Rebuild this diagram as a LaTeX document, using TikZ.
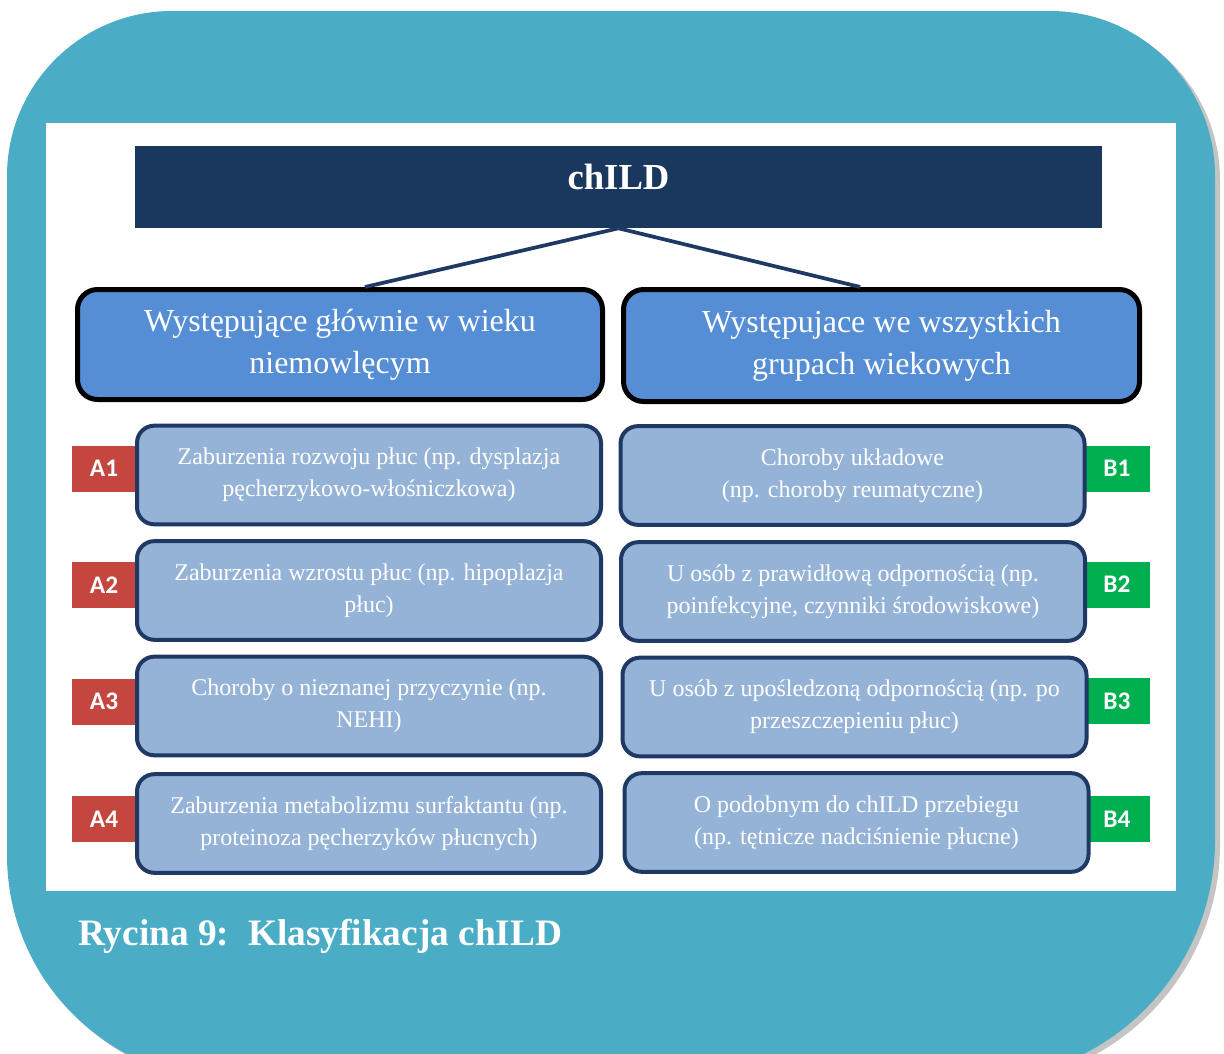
\documentclass[tikz,border=0pt]{standalone}
\usepackage{fontspec}
\setmainfont{Liberation Serif}
\newfontfamily\lblfont{Carlito}
\definecolor{teal}{HTML}{4BACC6}
\definecolor{shadowgrey}{HTML}{C4C4C4}
\definecolor{hdrnavy}{HTML}{1A385D}
\definecolor{midblue}{HTML}{558ED5}
\definecolor{subfill}{HTML}{95B3D7}
\definecolor{subborder}{HTML}{1F3864}
\definecolor{lblred}{HTML}{C4463F}
\definecolor{lblgreen}{HTML}{00B050}
\begin{document}
\begin{tikzpicture}[x=0.75pt,y=-0.75pt,
  hdrbox/.style={fill=hdrnavy, minimum width=725.25pt, minimum height=61.5pt, inner sep=0pt},
  hdrtext/.style={text=white, font=\fontsize{27.5}{30}\selectfont\bfseries, inner sep=0pt},
  midbox/.style={draw=black, line width=3.75pt, fill=midblue, rounded corners=15pt,
    minimum height=82.5pt, text=white, font=\fontsize{24}{31.5}\selectfont,
    align=center, inner sep=0pt},
  subbox/.style={draw=subborder, line width=3pt, fill=subfill, rounded corners=13pt,
    minimum width=348pt, minimum height=74pt, text=white,
    font=\fontsize{18}{24}\selectfont, align=center, inner sep=0pt},
  redlbl/.style={fill=lblred, minimum width=48pt, minimum height=34.5pt, inner sep=0pt,
    text=white, font=\lblfont\fontsize{19}{22}\selectfont\bfseries},
  greenlbl/.style={fill=lblgreen, minimum width=49.5pt, minimum height=34.5pt, inner sep=0pt,
    text=white, font=\lblfont\fontsize{19}{22}\selectfont\bfseries},
  conn/.style={draw=subborder, line width=2.8pt},
  caption/.style={text=white, font=\fontsize{28}{32}\selectfont\bfseries, inner sep=0pt}
]
\useasboundingbox (0,0) rectangle (1224,1053);
\clip (0,0) rectangle (1224,1053);
% outer frame shadow and frame
\fill[shadowgrey, shift={(5,4)}] (7,176) .. controls (7,84.9) and (80.9,11) .. (172,11)
  -- (1050,11) .. controls (1141.1,11) and (1215,84.9) .. (1215,176)
  -- (1215,840) .. controls (1215,972.5) and (1107.5,1080) .. (975,1080)
  -- (232,1080) .. controls (107.7,1080) and (7,979.3) .. (7,855) -- cycle;
\fill[teal] (7,176) .. controls (7,84.9) and (80.9,11) .. (172,11)
  -- (1050,11) .. controls (1141.1,11) and (1215,84.9) .. (1215,176)
  -- (1215,840) .. controls (1215,972.5) and (1107.5,1080) .. (975,1080)
  -- (232,1080) .. controls (107.7,1080) and (7,979.3) .. (7,855) -- cycle;
% white panel
\fill[white] (46,123) rectangle (1176,891);
% header
\node[hdrbox] (hdr) at (618.5,187) {};
\node[hdrtext] (hdrt) at (618.5,177) {chILD};
% mid boxes
\node[midbox, minimum width=393.75pt] (L) at (340,344.5)
  {Występujące głównie w wieku\\niemowlęcym};
\node[midbox, minimum width=387pt, minimum height=84pt] (R) at (881.5,345.5)
  {Występujace we wszystkich\\grupach wiekowych};
% connectors
\draw[conn] (hdr.south) -- ([xshift=18.75pt]L.north);
\draw[conn] (hdr.south) -- ([xshift=-16pt]R.north);
% labels (behind boxes)
\node[redlbl] (a1) at (104,468.5) {A1};
\node[redlbl] (a2) at (104,585) {A2};
\node[redlbl] (a3) at (104,701.5) {A3};
\node[redlbl] (a4) at (104,819) {A4};
\node[greenlbl] (b1) at (1117,468.5) {B1};
\node[greenlbl] (b2) at (1117,584.5) {B2};
\node[greenlbl] (b3) at (1117,701) {B3};
\node[greenlbl] (b4) at (1117,819) {B4};
% sub boxes
\node[subbox] (A1) at (369,475) {Zaburzenia rozwoju płuc (np. dysplazja\\pęcherzykowo-włośniczkowa)};
\node[subbox] (A2) at (369,590.5) {Zaburzenia wzrostu płuc (np. hipoplazja\\płuc)};
\node[subbox] (A3) at (369,706) {Choroby o nieznanej przyczynie (np.\\NEHI)};
\node[subbox] (A4) at (369,823.5) {Zaburzenia metabolizmu surfaktantu (np.\\proteinoza pęcherzyków płucnych)};
\node[subbox] (B1) at (852.5,475.5) {Choroby układowe\\(np. choroby reumatyczne)};
\node[subbox] (B2) at (853,591.5) {U osób z prawidłową odpornością (np.\\poinfekcyjne, czynniki środowiskowe)};
\node[subbox] (B3) at (854.5,707) {U osób z upośledzoną odpornością (np. po\\przeszczepieniu płuc)};
\node[subbox] (B4) at (856.5,822.5) {O podobnym do chILD przebiegu\\(np. tętnicze nadciśnienie płucne)};
% caption
\node[caption, anchor=base west] (cap) at (78,945) {Rycina 9:\ \ Klasyfikacja chILD};
\end{tikzpicture}
\end{document}
